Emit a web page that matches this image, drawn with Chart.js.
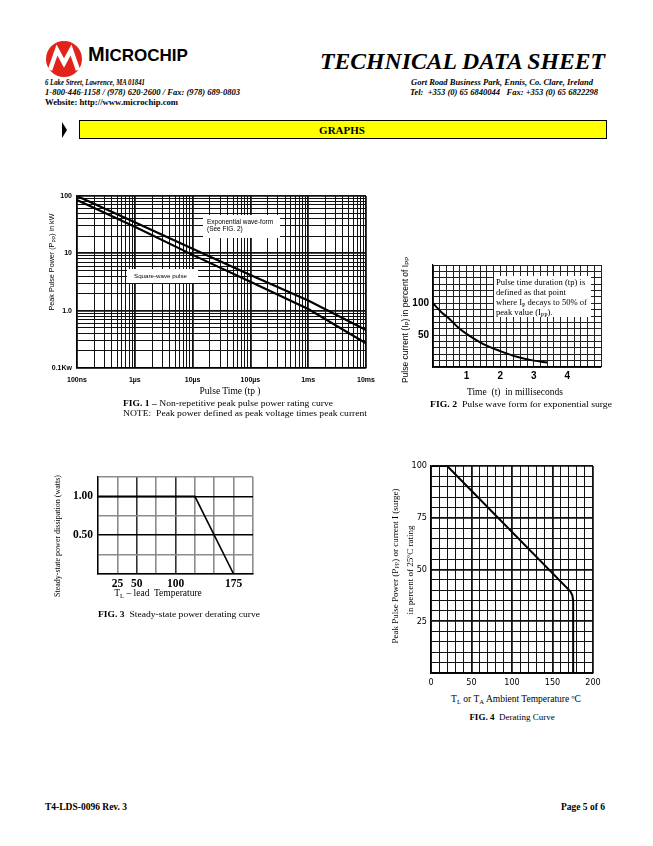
<!DOCTYPE html>
<html>
<head>
<meta charset="utf-8">
<script src="https://cdn.jsdelivr.net/npm/chart.js@4.4.0/dist/chart.umd.min.js"></script>
<style>
  html, body { margin: 0; padding: 0; background: #fff; }
  #page { position: relative; width: 653px; height: 846px; overflow: hidden; }
  .box { position: absolute; }
  .t { position: absolute; white-space: nowrap; font-family: 'Liberation Serif', serif; color: #000; line-height: 1; }
  .s { font-family: 'Liberation Sans', Arial, sans-serif; }
  .c { transform: translate(-50%, -50%); }
  .r90 { transform: translate(-50%, -50%) rotate(-90deg); }
  sub { font-size: 70%; vertical-align: -0.25em; line-height: 0; }
  .lbl { position: absolute; background: #fff; }
</style>
</head>
<body>
<div id="page">
  <!-- header -->
  <svg class="box" style="left:44px;top:39px" width="40" height="40" viewBox="0 0 40 40">
    <circle cx="20" cy="20" r="18" fill="#e2231a"/>
    <path d="M6 31 L13 11 L20 24 L27 11 L34 31" fill="none" stroke="#fff" stroke-width="4.5" stroke-linejoin="miter"/>
  </svg>
  <div class="t s" style="left:88px;top:54px;font-weight:bold;font-size:17px;transform:translateY(-50%)"><span style="font-size:20px">M</span>ICROCHIP</div>
  <div class="t fit" data-w="285" style="left:320px;top:62px;font-weight:bold;font-style:italic;font-size:23.5px">TECHNICAL DATA SHEET</div>

  <div class="t fit" data-w="100" style="left:45px;top:83px;font-weight:bold;font-style:italic;font-size:8px">6 Lake Street, Lawrence, MA 01841</div>
  <div class="t fit" data-w="195" style="left:45px;top:93px;font-weight:bold;font-style:italic;font-size:8px">1-800-446-1158 / (978) 620-2600 / Fax: (978) 689-0803</div>
  <div class="t fit" data-w="133" style="left:45px;top:103px;font-weight:bold;font-size:8px">Website: http://www.microchip.com</div>
  <div class="t fit" data-w="182" style="left:411px;top:83px;font-weight:bold;font-style:italic;font-size:8px">Gort Road Business Park, Ennis, Co. Clare, Ireland</div>
  <div class="t fit" data-w="188" style="left:410px;top:93px;font-weight:bold;font-style:italic;font-size:8px">Tel:&nbsp; +353 (0) 65 6840044&nbsp;&nbsp; Fax: +353 (0) 65 6822298</div>

  <div class="box" style="left:62px;top:122px;width:0;height:0;border-top:8px solid transparent;border-bottom:8px solid transparent;border-left:5px solid #000"></div>
  <div class="box" style="left:79px;top:120px;width:526px;height:17px;background:#ffff00;border:1.5px solid #000"></div>
  <div class="t c" style="left:342px;top:130px;font-weight:bold;font-size:11px">GRAPHS</div>

  <!-- charts -->
  <div class="box" id="w1"><canvas id="fig1"></canvas></div>
  <div class="box" id="w2"><canvas id="fig2"></canvas></div>
  <div class="box" id="w3"><canvas id="fig3"></canvas></div>
  <div class="box" id="w4"><canvas id="fig4"></canvas></div>

  <!-- fig 1 text -->
  <div class="lbl" style="left:203px;top:215px;width:77px;height:23px"></div>
  <div class="t s" style="left:207px;top:218px;font-size:6.5px;line-height:7px">Exponential wave-form<br>(See FIG. 2)</div>
  <div class="lbl" style="left:127px;top:269px;width:71px;height:14px"></div>
  <div class="t s" style="left:134px;top:276px;font-size:6.2px;transform:translateY(-50%)">Square-wave pulse</div>
  <div class="t s r90" style="left:52px;top:262px;font-size:7.2px">Peak Pulse Power (P<sub>PP</sub>) in kW</div>
  <div class="t c" style="left:230px;top:392px;font-size:9.5px">Pulse Time (tp )</div>
  <div class="t fit" data-w="210" style="left:123px;top:403px;font-size:9px"><b>FIG. 1 –</b> Non-repetitive peak pulse power rating curve</div>
  <div class="t fit" data-w="244" style="left:123px;top:413px;font-size:9px">NOTE:&nbsp; Peak power defined as peak voltage times peak current</div>

  <!-- fig 2 text -->
  <div class="lbl" style="left:494px;top:276px;width:97px;height:41px"></div>
  <div class="t" style="left:496px;top:277px;font-size:8.6px;line-height:10px">Pulse time duration (tp) is<br>defined as that point<br>where I<sub>P</sub> decays to 50% of<br>peak value (I<sub>PP</sub>).</div>
  <div class="t s r90" style="left:405px;top:320px;font-size:8.5px">Pulse current (I<sub>P</sub>) in percent of I<sub>PP</sub></div>
  <div class="t c" style="left:515px;top:393px;font-size:9.5px">Time&nbsp; (t)&nbsp; in milliseconds</div>
  <div class="t fit" data-w="182" style="left:430px;top:404px;font-size:9px"><b>FIG. 2</b>&nbsp; Pulse wave form for exponential surge</div>

  <!-- fig 3 text -->
  <div class="t r90" style="left:58px;top:536px;font-size:8px">Steady-state power dissipation (watts)</div>
  <div class="t c" style="left:158px;top:594px;font-size:9.5px">T<sub>L</sub> – lead&nbsp; Temperature</div>
  <div class="t fit" data-w="162" style="left:98px;top:614px;font-size:9px"><b>FIG. 3</b>&nbsp; Steady-state power derating curve</div>

  <!-- fig 4 text -->
  <div class="t r90" style="left:395px;top:566px;font-size:9px">Peak Pulse Power (P<sub>PP</sub>) or current I (surge)</div>
  <div class="t r90" style="left:410px;top:570px;font-size:9px">in percent of 25ºC rating</div>
  <div class="t c" style="left:516px;top:700px;font-size:9.5px">T<sub>L</sub> or T<sub>A</sub> Ambient Temperature ºC</div>
  <div class="t c" style="left:512px;top:717px;font-size:9px"><b>FIG. 4</b>&nbsp; Derating Curve</div>

  <!-- footer -->
  <div class="t" style="left:45px;top:808px;font-weight:bold;font-size:9.5px;transform:translateY(-50%)">T4-LDS-0096 Rev. 3</div>
  <div class="t" style="right:48px;top:808px;font-weight:bold;font-size:9.5px;transform:translateY(-50%)">Page 5 of 6</div>
</div>

<script>
// FIG. 1 - peak pulse power vs pulse time (log-log)
const timeDecades = [1e-7, 1e-6, 1e-5, 1e-4, 1e-3, 1e-2];
const timeLabels = ['100ns', '1µs', '10µs', '100µs', '1ms', '10ms'];
const powerDecades = [0.1, 1, 10, 100];
const powerLabels = ['0.1Kw', '1.0', '10', '100'];
const pulseTime = [1e-7, 1e-6, 1e-5, 1e-4, 1e-3, 1e-2];
const expWavePower = [100, 35, 12, 4.2, 1.5, 0.46];
const squareWavePower = [85, 29, 9.4, 3.2, 1.07, 0.27];

// FIG. 2 - exponential pulse wave form
const waveTimeMs = [0, 0.25, 0.5, 0.75, 1, 1.5, 2, 2.5, 3, 3.4];
const pulseCurrentPct = [100, 86, 75, 62, 52, 36, 25, 16, 10, 7];
const waveTimeLabels = [1, 2, 3, 4];
const currentLabels = [50, 100];

// FIG. 3 - steady-state power derating
const leadTemp = [0, 125, 175];
const steadyPower = [1.0, 1.0, 0];
const leadTempLabels = [25, 50, 100, 175];
const steadyPowerLabels = [0.5, 1.0];

// FIG. 4 - derating curve
const ambientTemp = [0, 20, 172, 174.5, 175.5, 175.5];
const deratingPct = [100, 100, 39.5, 37.5, 35, 0];
const ambientLabels = [0, 50, 100, 150, 200];
const deratingLabels = [25, 50, 75, 100];

function logGrid(decades) {
  const out = [];
  for (let i = 0; i < decades.length - 1; i++) {
    for (let k = 1; k < 10; k++) out.push(k * decades[i]);
  }
  out.push(decades[decades.length - 1]);
  return out;
}
function steps(min, max, n) {
  const out = [];
  for (let i = 0; i <= n; i++) out.push(min + (max - min) * i / n);
  return out;
}
function near(a, b) { return Math.abs(a - b) <= Math.abs(b) * 1e-6 + 1e-9; }
function labelFrom(values, labels) {
  return v => {
    const i = values.findIndex(t => near(v, t));
    return i < 0 ? '' : labels[i];
  };
}
function isIn(values) { return ctx => ctx.tick && values.some(t => near(ctx.tick.value, t)); }
function fixBox(size, vertical) {
  return s => {
    if (vertical) s.width = size; else s.height = size;
    s.paddingLeft = 0; s.paddingRight = 0; s.paddingTop = 0; s.paddingBottom = 0;
  };
}
function setTicks(list) {
  return s => { s.ticks = list.map(v => ({ value: v })); };
}
function points(xs, ys) { return xs.map((x, i) => ({ x: x, y: ys[i] })); }

function makeChart(id, rect, pad, datasets, xScale, yScale) {
  const [L, T, R, B] = rect;
  const wrap = document.getElementById('w' + id.slice(3));
  wrap.style.left = (L - pad.yw) + 'px';
  wrap.style.top = (T - pad.pt) + 'px';
  wrap.style.width = (R - L + pad.yw + pad.pr) + 'px';
  wrap.style.height = (B - T + pad.pt + pad.xh) + 'px';
  xScale.afterFit = fixBox(pad.xh, false);
  yScale.afterFit = fixBox(pad.yw, true);
  return new Chart(document.getElementById(id), {
    type: 'scatter',
    data: { datasets: datasets },
    options: {
      responsive: true,
      maintainAspectRatio: false,
      animation: false,
      events: [],
      layout: { padding: { left: 0, top: pad.pt, right: pad.pr, bottom: 0 } },
      plugins: { legend: { display: false }, tooltip: { enabled: false } },
      scales: { x: xScale, y: yScale }
    }
  });
}

function lineSet(xs, ys, width) {
  return {
    data: points(xs, ys),
    showLine: true,
    borderColor: '#000',
    borderWidth: width,
    pointRadius: 0,
    tension: 0
  };
}

const tickFont1 = { family: 'Liberation Sans', size: 7, weight: 'bold' };

makeChart('fig1', [77, 196, 366, 368], { yw: 30, xh: 22, pr: 20, pt: 6 },
  [lineSet(pulseTime, expWavePower, 2.2), lineSet(pulseTime, squareWavePower, 2.2)],
  {
    type: 'logarithmic', min: timeDecades[0], max: timeDecades[timeDecades.length - 1],
    afterBuildTicks: setTicks(logGrid(timeDecades)),
    grid: { color: '#111', lineWidth: c => isIn(timeDecades)(c) ? 1.8 : 1, drawTicks: false },
    border: { color: '#000', width: 1.2 },
    ticks: { autoSkip: false, maxRotation: 0, padding: 8, color: '#000', font: tickFont1,
      callback: labelFrom(timeDecades, timeLabels) }
  },
  {
    type: 'logarithmic', min: powerDecades[0], max: powerDecades[powerDecades.length - 1],
    afterBuildTicks: setTicks(logGrid(powerDecades)),
    grid: { color: '#111', lineWidth: c => isIn(powerDecades)(c) ? 1.8 : 1, drawTicks: false },
    border: { color: '#000', width: 1.2 },
    ticks: { autoSkip: false, padding: 5, color: '#000', font: tickFont1,
      callback: labelFrom(powerDecades, powerLabels) }
  });

const tickFont2 = { family: 'Liberation Sans', size: 10, weight: 'bold' };

makeChart('fig2', [433, 265, 601, 367], { yw: 30, xh: 16, pr: 6, pt: 6 },
  [Object.assign(lineSet(waveTimeMs, pulseCurrentPct, 2), { tension: 0.35 })],
  {
    type: 'linear', min: 0, max: 5,
    afterBuildTicks: setTicks(steps(0, 5, 25)),
    grid: { color: '#222', lineWidth: 1, drawTicks: false },
    border: { color: '#000', width: 1.2 },
    ticks: { autoSkip: false, maxRotation: 0, padding: 3, color: '#000', font: tickFont2,
      callback: labelFrom(waveTimeLabels, waveTimeLabels.map(String)) }
  },
  {
    type: 'linear', min: 0, max: 160,
    afterBuildTicks: setTicks(steps(0, 160, 16)),
    grid: { color: '#222', lineWidth: 1, drawTicks: false },
    border: { color: '#000', width: 1.2 },
    ticks: { autoSkip: false, padding: 4, color: '#000', font: tickFont2,
      callback: labelFrom(currentLabels, currentLabels.map(String)) }
  });

const tickFont3 = { family: 'Liberation Serif', size: 11.5, weight: 'bold' };

makeChart('fig3', [98, 477, 253, 574], { yw: 30, xh: 16, pr: 8, pt: 6 },
  [lineSet(leadTemp, steadyPower, 1.6)],
  {
    type: 'linear', min: 0, max: 200,
    afterBuildTicks: setTicks(steps(0, 200, 8)),
    grid: { color: c => isIn([50, 100])(c) ? '#333' : '#8c8c8c', lineWidth: 1.6, drawTicks: false },
    border: { color: '#000', width: 1.4 },
    ticks: { autoSkip: false, maxRotation: 0, padding: 3, color: '#000', font: tickFont3,
      callback: labelFrom(leadTempLabels, leadTempLabels.map(String)) }
  },
  {
    type: 'linear', min: 0, max: 1.25,
    afterBuildTicks: setTicks(steps(0, 1.25, 5)),
    grid: { color: c => isIn(steadyPowerLabels)(c) ? '#000' : '#8c8c8c', lineWidth: 1.6, drawTicks: false },
    border: { color: '#000', width: 1.4 },
    ticks: { autoSkip: false, padding: 5, color: '#000', font: tickFont3,
      callback: labelFrom(steadyPowerLabels, steadyPowerLabels.map(v => v.toFixed(2))) }
  });

const tickFont4 = { family: "'Liberation Sans Narrow', 'DejaVu Sans Condensed', sans-serif", size: 9 };

makeChart('fig4', [431, 466, 593, 673], { yw: 30, xh: 16, pr: 10, pt: 6 },
  [lineSet(ambientTemp, deratingPct, 2)],
  {
    type: 'linear', min: 0, max: 200,
    afterBuildTicks: setTicks(steps(0, 200, 20)),
    grid: { color: '#111', lineWidth: c => isIn(ambientLabels)(c) ? 1.8 : 1, drawTicks: false },
    border: { color: '#000', width: 1.6 },
    ticks: { autoSkip: false, maxRotation: 0, padding: 4, color: '#000', font: tickFont4,
      callback: labelFrom(ambientLabels, ambientLabels.map(String)) }
  },
  {
    type: 'linear', min: 0, max: 100,
    afterBuildTicks: setTicks(steps(0, 100, 20)),
    grid: { color: '#111', lineWidth: c => isIn(deratingLabels)(c) ? 1.8 : 1, drawTicks: false },
    border: { color: '#000', width: 1.6 },
    ticks: { autoSkip: false, padding: 4, color: '#000', font: tickFont4,
      callback: labelFrom(deratingLabels, deratingLabels.map(String)) }
  });

// squeeze header / caption lines to the widths they have on the sheet
document.querySelectorAll('.fit').forEach(el => {
  const w = el.getBoundingClientRect().width;
  const target = +el.dataset.w;
  el.style.transformOrigin = '0 50%';
  el.style.transform = 'translateY(-50%) scaleX(' + (target / w).toFixed(3) + ')';
});
</script>
</body>
</html>
